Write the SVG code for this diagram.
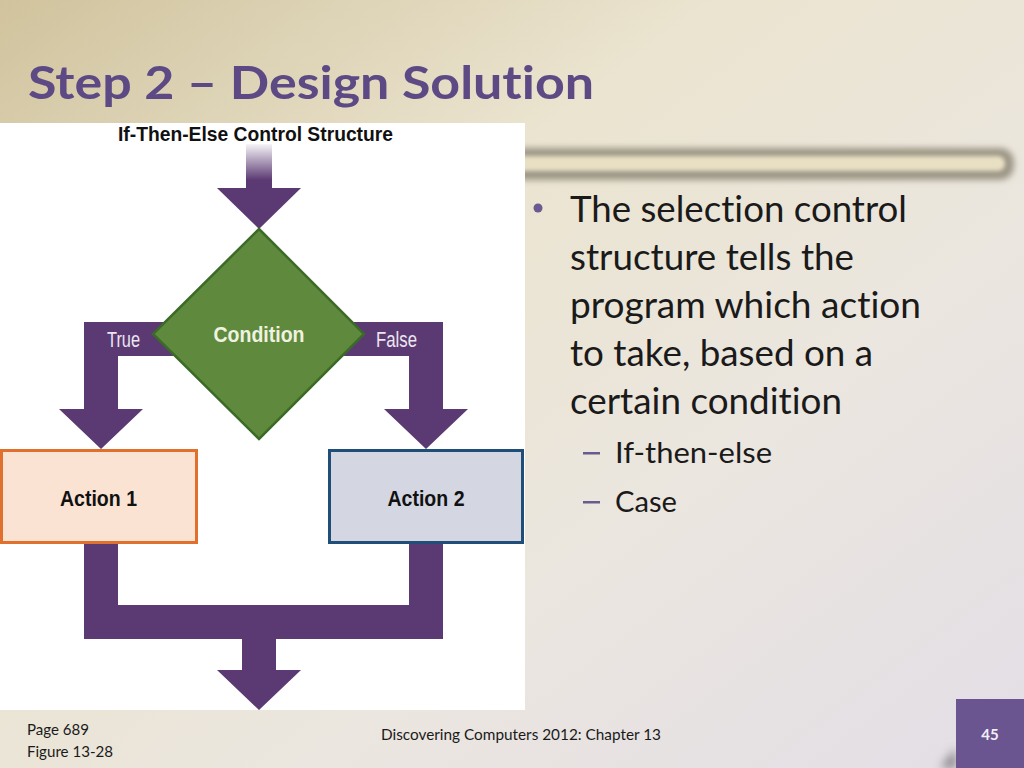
<svg xmlns="http://www.w3.org/2000/svg" width="1024" height="768" viewBox="0 0 1024 768">
  <defs>
    <linearGradient id="bg" x1="0" y1="0" x2="1" y2="1">
      <stop offset="0" stop-color="#d0c39d"/>
      <stop offset="0.35" stop-color="#ebe4d0"/>
      <stop offset="0.65" stop-color="#ebe6df"/>
      <stop offset="1" stop-color="#e2dee6"/>
    </linearGradient>
    <linearGradient id="shaftFade" gradientUnits="userSpaceOnUse" x1="0" y1="142" x2="0" y2="180">
      <stop offset="0" stop-color="#ffffff"/>
      <stop offset="1" stop-color="#5b3a73"/>
    </linearGradient>
    <filter id="blur3" x="-10%" y="-60%" width="120%" height="220%">
      <feGaussianBlur stdDeviation="3"/>
    </filter>
    <filter id="blur2" x="-10%" y="-60%" width="120%" height="220%">
      <feGaussianBlur stdDeviation="2"/>
    </filter>
    <filter id="blur5" x="-50%" y="-50%" width="200%" height="200%">
      <feGaussianBlur stdDeviation="5"/>
    </filter>
  </defs>
  <style>
    text { font-variant-ligatures: none; }
    .arrow { fill: #5b3a73; }
    .fig { font-family: "Liberation Sans", Arial, sans-serif; }
    .figbold { font-family: "Liberation Sans", Arial, sans-serif; font-weight: bold; }
    .body { font-family: Lato, "Open Sans", sans-serif; fill: #1a1a1a; }
    .foot { font-family: Lato, "Open Sans", sans-serif; fill: #1a1a1a; font-size: 15px; }
    .accent { fill: #6a5a90; }
  </style>

  <!-- background -->
  <rect x="0" y="0" width="1024" height="768" fill="url(#bg)"/>

  <!-- decorative tube -->
  <g id="tube">
    <rect x="500" y="148" width="514" height="32" rx="14" fill="#9c9686" filter="url(#blur3)"/>
    <rect x="505" y="156" width="500" height="15" rx="7" fill="#e9e0c4" filter="url(#blur2)"/>
  </g>

  <!-- title -->
  <g id="title">
    <text x="28" y="99" font-family="Lato, 'Open Sans', sans-serif" font-weight="bold" font-size="45" fill="#5d4a85" textLength="566" lengthAdjust="spacingAndGlyphs">Step 2 – Design Solution</text>
  </g>

  <!-- figure panel -->
  <rect id="figure-panel" x="0" y="123" width="525" height="587" fill="#ffffff"/>
  <text id="figure-title" class="figbold" x="118" y="141" font-size="21" fill="#111111" textLength="275" lengthAdjust="spacingAndGlyphs">If-Then-Else Control Structure</text>

  <!-- connectors -->
  <g id="connectors">
    <rect x="246" y="144" width="26" height="45" fill="url(#shaftFade)"/>
    <polygon class="arrow" points="217,188 301,188 259,229"/>
    <polygon class="arrow" points="200,322 84,322 84,409 59,409 101,449 143,409 118,409 118,356 200,356"/>
    <polygon class="arrow" points="318,322 443,322 443,409 468,409 426,449 384,409 409,409 409,356 318,356"/>
    <polygon class="arrow" points="84,544 84,639 242,639 242,670 217,670 259,710 301,670 276,670 276,639 443,639 443,544 409,544 409,605 118,605 118,544"/>
    <text class="fig" x="107" y="347" font-size="22" fill="#ebe6f0" textLength="33" lengthAdjust="spacingAndGlyphs">True</text>
    <text class="fig" x="376" y="347" font-size="22" fill="#ebe6f0" textLength="41" lengthAdjust="spacingAndGlyphs">False</text>
  </g>

  <!-- decision node -->
  <g id="condition">
    <polygon points="259,229 364,334 259,439 153,334" fill="#5f8a3e" stroke="#3b6b27" stroke-width="2.5"/>
    <text class="figbold" x="259" y="342" font-size="22" fill="#f0f2e0" text-anchor="middle" textLength="91" lengthAdjust="spacingAndGlyphs">Condition</text>
  </g>

  <!-- action nodes -->
  <g id="action1">
    <rect x="1.5" y="450.5" width="195" height="92" fill="#fae3d3" stroke="#e0702c" stroke-width="3"/>
    <text class="figbold" x="98.5" y="506" font-size="22" fill="#111111" text-anchor="middle" textLength="77" lengthAdjust="spacingAndGlyphs">Action 1</text>
  </g>
  <g id="action2">
    <rect x="329.5" y="450.5" width="193" height="92" fill="#d4d7e2" stroke="#1f4e79" stroke-width="3"/>
    <text class="figbold" x="426" y="506" font-size="22" fill="#111111" text-anchor="middle" textLength="77" lengthAdjust="spacingAndGlyphs">Action 2</text>
  </g>

  <!-- bullet text -->
  <g id="bullets">
    <circle class="accent" cx="538" cy="208" r="4.5"/>
    <text class="body" x="570" y="222" font-size="36" textLength="337" lengthAdjust="spacingAndGlyphs">The selection control</text>
    <text class="body" x="570" y="270" font-size="36" textLength="284" lengthAdjust="spacingAndGlyphs">structure tells the</text>
    <text class="body" x="570" y="318" font-size="36" textLength="351" lengthAdjust="spacingAndGlyphs">program which action</text>
    <text class="body" x="570" y="366" font-size="36" textLength="303" lengthAdjust="spacingAndGlyphs">to take, based on a</text>
    <text class="body" x="570" y="414" font-size="36" textLength="272" lengthAdjust="spacingAndGlyphs">certain condition</text>
    <rect class="accent" x="583" y="452" width="17" height="2.5"/>
    <text class="body" x="615" y="463" font-size="29" textLength="157" lengthAdjust="spacingAndGlyphs">If-then-else</text>
    <rect class="accent" x="583" y="501" width="17" height="2.5"/>
    <text class="body" x="615" y="512" font-size="29" textLength="62" lengthAdjust="spacingAndGlyphs">Case</text>
  </g>

  <!-- footer -->
  <g id="footer">
    <text class="foot" x="27" y="735" textLength="62" lengthAdjust="spacingAndGlyphs">Page 689</text>
    <text class="foot" x="27" y="757" textLength="86" lengthAdjust="spacingAndGlyphs">Figure 13-28</text>
    <text class="foot" x="381" y="740" textLength="280" lengthAdjust="spacingAndGlyphs">Discovering Computers 2012: Chapter 13</text>
  </g>

  <!-- page number -->
  <g id="page-number">
    <polygon points="956,748 940,768 956,768" fill="#6e6a70" filter="url(#blur5)" opacity="0.8"/>
    <rect x="956" y="699" width="68" height="69" fill="#6a5590"/>
    <text x="990" y="740" font-family="Lato, 'Open Sans', sans-serif" font-weight="bold" font-size="15" fill="#f2eef8" text-anchor="middle">45</text>
  </g>
</svg>
